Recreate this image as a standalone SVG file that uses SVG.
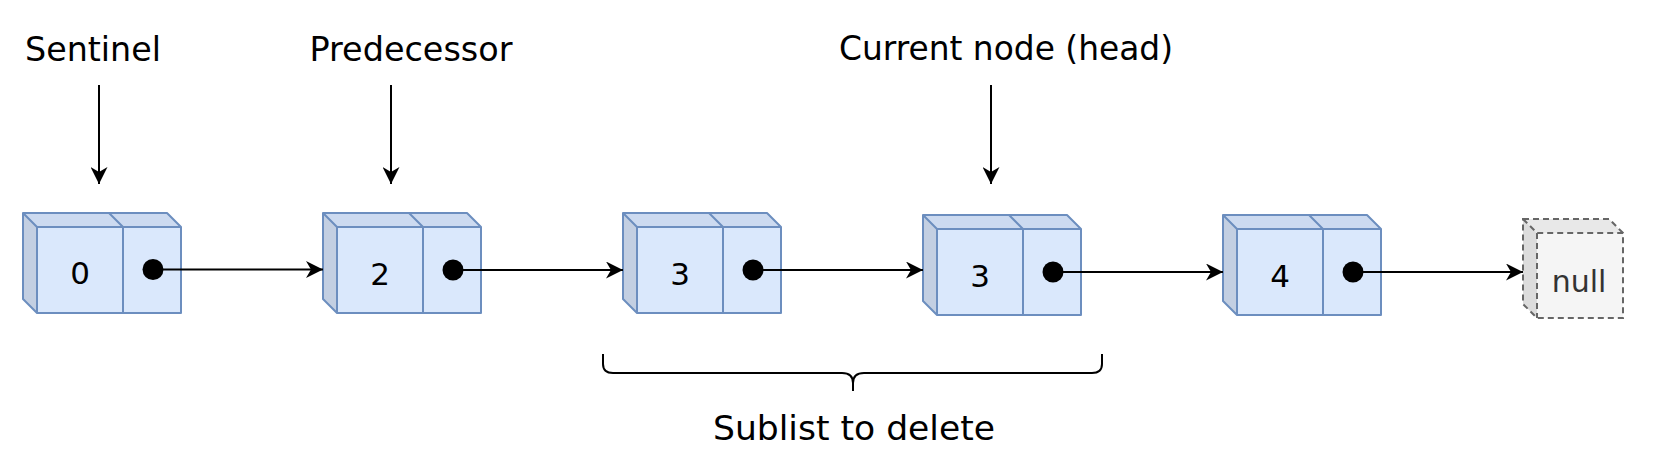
<svg xmlns="http://www.w3.org/2000/svg" xmlns:xlink="http://www.w3.org/1999/xlink" width="1668" height="454" viewBox="0 0 1668 454">
<style>
  .lbl { font-family: "DejaVu Sans", "Noto Sans", sans-serif; font-size: 34px; fill: #000; text-anchor: middle; }
  .num { font-family: "DejaVu Sans", "Noto Sans", sans-serif; font-size: 31px; fill: #000; text-anchor: middle; }
  .nul { font-family: "DejaVu Sans", "Noto Sans", sans-serif; font-size: 30px; fill: #333; text-anchor: middle; }
  .edge { stroke: #000; stroke-width: 2; fill: none; }
  .front { fill: #dae8fc; }
  .top { fill: #ccdaf0; }
  .side { fill: #c3cfe2; }
  .ol { fill: none; stroke: #6c8ebf; stroke-width: 2; stroke-linejoin: round; }
</style>
<defs>
  <marker id="arr" viewBox="0 0 17 17" refX="17" refY="8.5" markerWidth="17" markerHeight="17" markerUnits="userSpaceOnUse" orient="auto">
    <path d="M0,0 L17,8.5 L0,17 L5,8.5 Z" fill="#000"/>
  </marker>
  <g id="cell">
    <rect class="front" x="14" y="14" width="144" height="86"/>
    <polygon class="top" points="0,0 144,0 158,14 14,14"/>
    <polygon class="side" points="0,0 14,14 14,100 0,86"/>
    <polygon class="ol" points="0,0 144,0 158,14 158,100 14,100 0,86"/>
    <path class="ol" d="M0,0 L14,14 H158 M14,14 V100 M86,0 L100,14 M100,14 V100"/>
  </g>
</defs>
<rect width="1668" height="454" fill="#fff"/>

<g id="label-sentinel"><text class="lbl" x="93" y="61" textLength="136" lengthAdjust="spacingAndGlyphs">Sentinel</text></g>
<g id="label-predecessor"><text class="lbl" x="411" y="61" textLength="203" lengthAdjust="spacingAndGlyphs">Predecessor</text></g>
<g id="label-current"><text class="lbl" x="1006" y="60" textLength="334" lengthAdjust="spacingAndGlyphs">Current node (head)</text></g>

<g id="node0" transform="translate(23,213)">
  <use xlink:href="#cell" href="#cell"/>
  <text class="num" x="57" y="71">0</text>
  <circle cx="130" cy="56.5" r="10.5" fill="#000"/>
</g>
<g id="node2" transform="translate(323,213)">
  <use xlink:href="#cell" href="#cell"/>
  <text class="num" x="57" y="72">2</text>
  <circle cx="130" cy="57" r="10.5" fill="#000"/>
</g>
<g id="node3a" transform="translate(623,213)">
  <use xlink:href="#cell" href="#cell"/>
  <text class="num" x="57" y="72">3</text>
  <circle cx="130" cy="57" r="10.5" fill="#000"/>
</g>
<g id="node3b" transform="translate(923,215)">
  <use xlink:href="#cell" href="#cell"/>
  <text class="num" x="57" y="72">3</text>
  <circle cx="130" cy="57" r="10.5" fill="#000"/>
</g>
<g id="node4" transform="translate(1223,215)">
  <use xlink:href="#cell" href="#cell"/>
  <text class="num" x="57" y="72">4</text>
  <circle cx="130" cy="57" r="10.5" fill="#000"/>
</g>
<g id="null" transform="translate(1523,219)">
  <rect x="14" y="14" width="86" height="85" fill="#f5f5f5"/>
  <polygon points="0,0 86,0 100,14 14,14" fill="#e8e8e8"/>
  <polygon points="0,0 14,14 14,99 0,85" fill="#dcdcdc"/>
  <polygon points="0,0 86,0 100,14 100,99 14,99 0,85" fill="none" stroke="#666" stroke-width="2" stroke-dasharray="6 4"/>
  <path d="M0,0 L14,14 H100 M14,14 V99" fill="none" stroke="#666" stroke-width="2" stroke-dasharray="6 4"/>
  <text class="nul" x="56" y="73">null</text>
</g>

<g id="brace">
  <path class="edge" d="M603,354 V364 Q603,373 613,373 H842 Q853,373 853,383 V391 M853,383 Q853,373 864,373 H1092 Q1102,373 1102,364 V354"/>
  <text class="lbl" x="854" y="440" textLength="282" lengthAdjust="spacingAndGlyphs">Sublist to delete</text>
</g>

<g id="connectors">
  <line class="edge" x1="99" y1="85" x2="99" y2="184" marker-end="url(#arr)"/>
  <line class="edge" x1="391" y1="85" x2="391" y2="184" marker-end="url(#arr)"/>
  <line class="edge" x1="991" y1="85" x2="991" y2="184" marker-end="url(#arr)"/>
  <line class="edge" x1="153" y1="269.5" x2="323" y2="269.5" marker-end="url(#arr)"/>
  <line class="edge" x1="453" y1="270" x2="623" y2="270" marker-end="url(#arr)"/>
  <line class="edge" x1="753" y1="270" x2="923" y2="270" marker-end="url(#arr)"/>
  <line class="edge" x1="1053" y1="272" x2="1223" y2="272" marker-end="url(#arr)"/>
  <line class="edge" x1="1353" y1="272" x2="1523" y2="272" marker-end="url(#arr)"/>
</g>
</svg>
